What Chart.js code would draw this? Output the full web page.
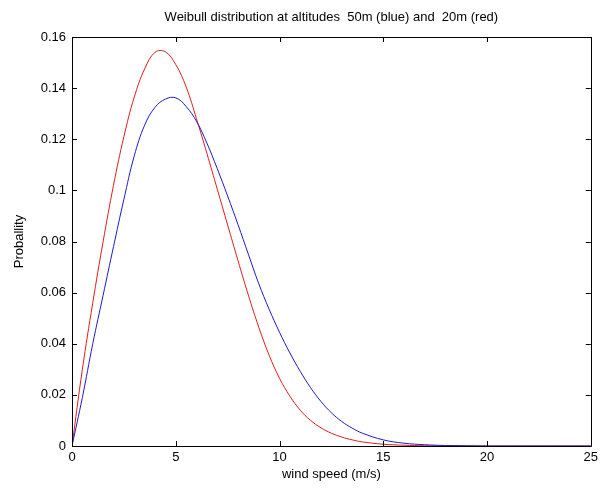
<!DOCTYPE html>
<html>
<head>
<meta charset="utf-8">
<script src="https://cdn.jsdelivr.net/npm/chart.js@4"></script>
<style>
  html, body { margin: 0; padding: 0; background: #fff; }
  #wrap { width: 602px; height: 490px; position: relative; }
</style>
</head>
<body>
<div id="wrap"><canvas id="chart-weibull"></canvas></div>
<script>
// wind speed samples (m/s)
const speeds = [0, 0.5, 1, 1.5, 2, 2.5, 3, 3.5, 4, 4.5, 5, 5.5, 6, 6.5, 7, 7.5, 8, 8.5, 9, 9.5,
                10, 10.5, 11, 11.5, 12, 12.5, 13, 13.5, 14, 15, 16, 17, 18, 19, 20, 21, 22, 23, 24, 25];

// 50 m (blue)
const prob50 = [0, 0.019, 0.040, 0.059, 0.078, 0.0965, 0.1135, 0.1255, 0.1325, 0.1357, 0.1362, 0.1328, 0.127, 0.1185, 0.1085, 0.0978,
                0.0866, 0.075, 0.0635, 0.0535, 0.0445, 0.0364, 0.0292, 0.0228, 0.0174, 0.013, 0.0096, 0.007, 0.005, 0.0024,
                0.0011, 0.0005, 0.0002, 0.0001, 0, 0, 0, 0, 0, 0];

// 20 m (red)
const prob20 = [0, 0.030, 0.056, 0.080, 0.102, 0.121, 0.1365, 0.1475, 0.1540, 0.1542, 0.1492, 0.1405, 0.128, 0.1145, 0.1005, 0.0865,
                0.0725, 0.059, 0.0465, 0.0355, 0.0265, 0.0195, 0.014, 0.010, 0.0071, 0.005, 0.0035, 0.0024, 0.0016, 0.0007,
                0.0003, 0.0001, 0, 0, 0, 0, 0, 0, 0, 0];

const xTicks = [0, 5, 10, 15, 20, 25];
const yTicks = [0, 0.02, 0.04, 0.06, 0.08, 0.1, 0.12, 0.14, 0.16];
const yTickLabels = ['0', '0.02', '0.04', '0.06', '0.08', '0.1', '0.12', '0.14', '0.16'];

const titleText = 'Weibull distribution at altitudes  50m (blue) and  20m (red)';
const FONT = 'Liberation Sans, Arial, sans-serif';

// ── MATLAB-ish box: frame, inward ticks on all four sides, title over plot area ──
const matlabBox = {
  id: 'matlabBox',
  afterDraw(chart) {
    const { ctx, chartArea: a, scales: { x, y } } = chart;
    ctx.save();
    ctx.strokeStyle = '#000';
    ctx.lineWidth = 1;
    ctx.beginPath();
    ctx.rect(Math.round(a.left) + 0.5, Math.round(a.top) + 0.5,
             Math.round(a.right - a.left), Math.round(a.bottom - a.top));
    ctx.stroke();
    const len = 5;
    ctx.beginPath();
    xTicks.forEach(v => {
      const px = Math.round(x.getPixelForValue(v)) + 0.5;
      ctx.moveTo(px, a.bottom); ctx.lineTo(px, a.bottom - len);
      ctx.moveTo(px, a.top);    ctx.lineTo(px, a.top + len);
    });
    yTicks.forEach(v => {
      const py = Math.round(y.getPixelForValue(v)) + 0.5;
      ctx.moveTo(a.left, py);  ctx.lineTo(a.left + len, py);
      ctx.moveTo(a.right, py); ctx.lineTo(a.right - len, py);
    });
    ctx.stroke();
    ctx.fillStyle = '#000';
    ctx.font = '13px ' + FONT;
    ctx.textAlign = 'center';
    ctx.textBaseline = 'middle';
    ctx.fillText(titleText, (a.left + a.right) / 2, 17);
    ctx.restore();
  }
};

const toPts = arr => speeds.map((s, i) => ({ x: s, y: arr[i] }));

new Chart(document.getElementById('chart-weibull'), {
  type: 'line',
  data: {
    datasets: [{
      label: '50m',
      data: toPts(prob50),
      borderColor: '#1c1cc8',
      borderWidth: 1,
      pointRadius: 0,
      tension: 0.4,
      fill: false,
    }, {
      label: '20m',
      data: toPts(prob20),
      borderColor: '#e01c1c',
      borderWidth: 1,
      pointRadius: 0,
      tension: 0.4,
      fill: false,
    }]
  },
  options: {
    responsive: true, maintainAspectRatio: false,
    animation: false,
    layout: { padding: { top: 37, right: 7, left: 0, bottom: 0 } },
    plugins: { legend: { display: false }, tooltip: { enabled: false }, title: { display: false } },
    scales: {
      x: {
        type: 'linear', min: 0, max: 25,
        afterBuildTicks: s => { s.ticks = xTicks.map(v => ({ value: v })); },
        afterFit: s => { s.height = 44; },
        grid: { display: false, drawTicks: false },
        border: { display: false },
        ticks: { color: '#000', padding: 4, font: { family: FONT, size: 13 } },
        title: { display: true, text: 'wind speed (m/s)', color: '#000', padding: { top: 0, bottom: 8 }, font: { family: FONT, size: 13 } }
      },
      y: {
        min: 0, max: 0.16,
        afterBuildTicks: s => { s.ticks = yTicks.map(v => ({ value: v })); },
        afterFit: s => { s.width = 72; },
        grid: { display: false, drawTicks: false },
        border: { display: false },
        ticks: {
          color: '#000', padding: 6, font: { family: FONT, size: 13 },
          callback: (v, i) => yTickLabels[i]
        },
        title: { display: true, text: 'Proballity', color: '#000', padding: { top: 12, bottom: 0 }, font: { family: FONT, size: 13 } }
      }
    }
  },
  plugins: [matlabBox]
});
</script>
</body>
</html>
